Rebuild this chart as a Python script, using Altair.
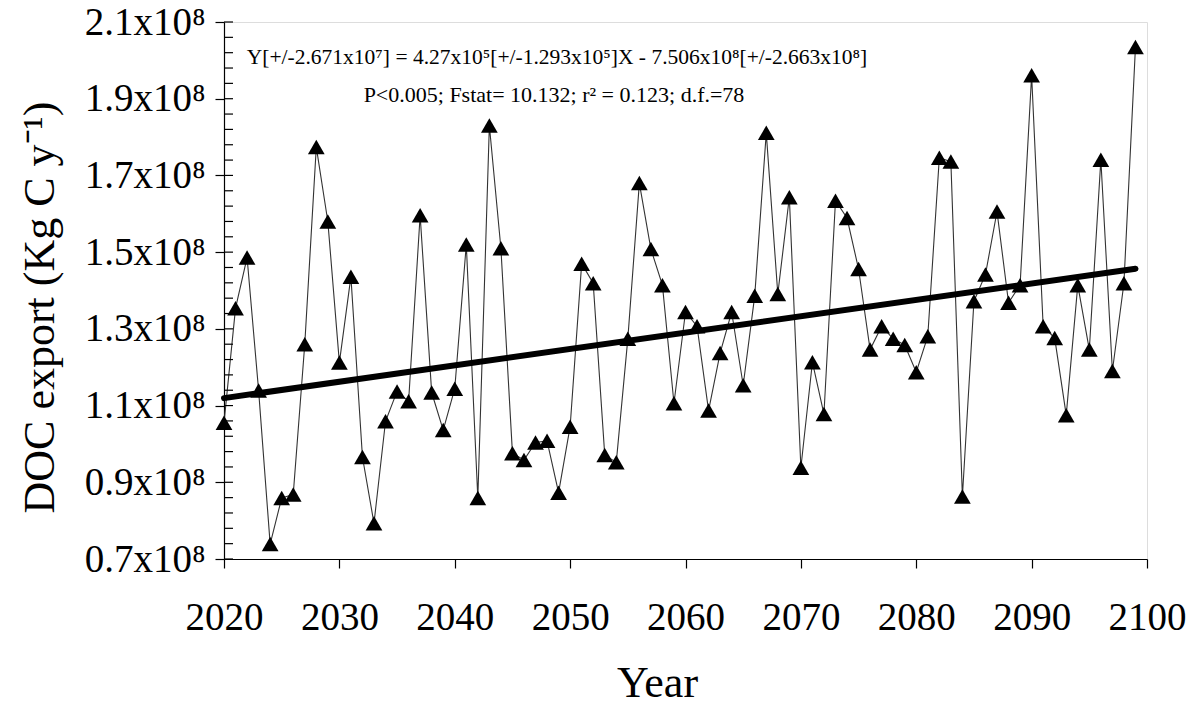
import altair as alt
import pandas as pd

# ---- data (values in units of 1e8 kg C / y) ----
years = list(range(2020, 2100))
doc_export = [1.055, 1.354, 1.486, 1.139, 0.739, 0.859, 0.868, 1.260, 1.774, 1.580,
              1.212, 1.436, 0.966, 0.793, 1.059, 1.137, 1.111, 1.596, 1.134, 1.036,
              1.144, 1.520, 0.859, 1.830, 1.510, 0.976, 0.958, 1.004, 1.008, 0.873,
              1.045, 1.470, 1.419, 0.971, 0.952, 1.274, 1.680, 1.508, 1.414, 1.106,
              1.344, 1.307, 1.087, 1.237, 1.344, 1.153, 1.386, 1.811, 1.391, 1.643,
              0.938, 1.213, 1.078, 1.634, 1.589, 1.456, 1.246, 1.307, 1.274, 1.258,
              1.187, 1.281, 1.746, 1.736, 0.863, 1.372, 1.442, 1.606, 1.368, 1.414,
              1.961, 1.307, 1.276, 1.075, 1.414, 1.246, 1.741, 1.190, 1.419, 2.035]

# fitted regression stated on the chart: Y = 4.27e5 X - 7.506e8
fit_slope = 4.27e5
fit_intercept = -7.506e8
fit_years = [2020, 2099]
fit_values = [(fit_slope * y + fit_intercept) / 1e8 for y in fit_years]

x_ticks = [2020, 2030, 2040, 2050, 2060, 2070, 2080, 2090, 2100]
y_ticks = [0.7, 0.9, 1.1, 1.3, 1.5, 1.7, 1.9, 2.1]
y_minor = [round(0.7 + 0.04 * i, 2) for i in range(36)]

line1 = "Y[+/-2.671x10\u2077] = 4.27x10\u2075[+/-1.293x10\u2075]X  - 7.506x10\u2078[+/-2.663x10\u2078]"
line2 = "P<0.005; Fstat= 10.132; r\u00b2 = 0.123; d.f.=78"

FONT = "Liberation Serif"

df = pd.DataFrame({"year": years, "doc": doc_export})
fit_df = pd.DataFrame({"year": fit_years, "doc": fit_values})
minor_df = pd.DataFrame({"doc": y_minor})

x_scale = alt.Scale(domain=[2020, 2100], nice=False, zero=False)
y_scale = alt.Scale(domain=[0.7, 2.1], nice=False, zero=False)

x_enc = alt.X("year:Q", scale=x_scale, title="Year",
              axis=alt.Axis(values=x_ticks, format="d", grid=False,
                            tickSize=9, tickColor="black", tickWidth=1.2,
                            domainColor="black", domainWidth=1.2,
                            labelFont=FONT, labelFontSize=39, labelColor="black",
                            labelPadding=30, labelFlush=False,
                            titleFont=FONT, titleFontSize=44, titleFontWeight="normal",
                            titleColor="black", titleX=433, titleY=137,
                            titleBaseline="alphabetic", titleAlign="center"))
y_enc = alt.Y("doc:Q", scale=y_scale, title="DOC export (Kg C y\u207b\u00b9)",
              axis=alt.Axis(values=y_ticks, grid=False,
                            labelExpr="format(datum.value, '.1f') + 'x10\u2078'",
                            tickSize=9, tickColor="black", tickWidth=1.2,
                            domainColor="black", domainWidth=1.2,
                            labelFont=FONT, labelFontSize=39, labelColor="black",
                            labelPadding=10, labelFlush=False,
                            titleFont=FONT, titleFontSize=44, titleFontWeight="normal",
                            titleColor="black", titleX=-184, titleY=285,
                            titleBaseline="middle", titleAlign="center", titleAngle=-90))

base = alt.Chart(df)

series_line = base.mark_line(color="#333333", strokeWidth=1.1).encode(x=x_enc, y=y_enc)
points = base.mark_point(shape="triangle-up", filled=True, color="black",
                         opacity=1, size=280).encode(x="year:Q", y="doc:Q")
fit = alt.Chart(fit_df).mark_line(color="black", strokeWidth=6,
                                  strokeCap="round").encode(x="year:Q", y="doc:Q")
minor = alt.Chart(minor_df).mark_rule(color="black", strokeWidth=1.2).encode(
    y="doc:Q", x=alt.value(0), x2=alt.value(9))

t1 = alt.Chart(pd.DataFrame({"t": [line1]})).mark_text(
    font=FONT, fontSize=21.5, color="black", align="center", baseline="middle"
).encode(text="t:N", x=alt.value(333), y=alt.value(36))
t2 = alt.Chart(pd.DataFrame({"t": [line2]})).mark_text(
    font=FONT, fontSize=22, color="black", align="center", baseline="middle"
).encode(text="t:N", x=alt.value(330), y=alt.value(73))

chart = alt.layer(series_line, fit, points, minor, t1, t2).properties(
    width=923, height=537,
    autosize=alt.AutoSizeParams(type="none"),
    padding={"left": 224, "top": 22, "right": 57, "bottom": 147},
).configure_view(stroke="#555555", strokeWidth=1.2).configure(background="white")

chart.save("out.html", embed_options={"renderer": "svg", "actions": False})
